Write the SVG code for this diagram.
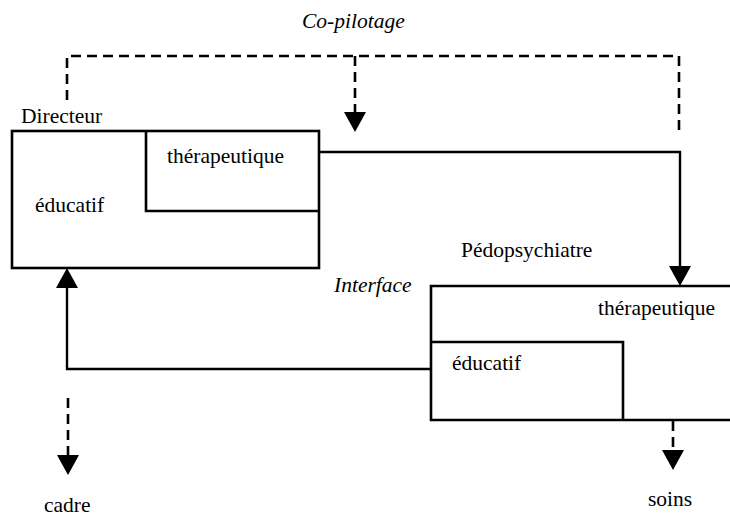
<svg xmlns="http://www.w3.org/2000/svg" width="730" height="519" viewBox="0 0 730 519">
<style>
text{font-family:"Liberation Serif","Times New Roman",serif;font-size:21.5px;fill:#000}
.it{font-style:italic}
.box{fill:none;stroke:#000;stroke-width:2.6}
.ln{fill:none;stroke:#000;stroke-width:2.4}
.dash{fill:none;stroke:#000;stroke-width:2.6;stroke-dasharray:10 6}
</style>
<defs>
<marker id="ah" markerUnits="userSpaceOnUse" markerWidth="21" markerHeight="22" refX="0" refY="11" orient="auto" overflow="visible">
<path d="M0,0 L20,11 L0,22 Z" fill="#000"/>
</marker>
</defs>
<g id="directeur">
<rect class="box" x="12" y="131" width="307" height="137"/>
<path class="box" d="M146,131 V211 H319"/>
<text x="21" y="123">Directeur</text>
<text x="167" y="163">thérapeutique</text>
<text x="35" y="212">éducatif</text>
</g>
<g id="pedopsychiatre">
<path class="box" d="M732,286 H431 V420 H732"/>
<path class="box" d="M431,342 H623 V420"/>
<text x="461" y="257">Pédopsychiatre</text>
<text x="598" y="315">thérapeutique</text>
<text x="452" y="370">éducatif</text>
</g>
<g id="labels">
<text class="it" x="302" y="28">Co-pilotage</text>
<text class="it" x="334" y="292">Interface</text>
<text x="44" y="512">cadre</text>
<text x="648" y="506">soins</text>
</g>
<g id="connectors">
<path class="ln" d="M319,152 H680 V266" marker-end="url(#ah)"/>
<path class="ln" d="M431,369 H67 V288" marker-end="url(#ah)"/>
<path class="dash" d="M67,100 V56 H679 V133"/>
<path class="dash" d="M355,56 V112" marker-end="url(#ah)"/>
<path class="dash" d="M68,398 V455" marker-end="url(#ah)"/>
<path class="dash" d="M673,421 V450" marker-end="url(#ah)"/>
</g>
</svg>
